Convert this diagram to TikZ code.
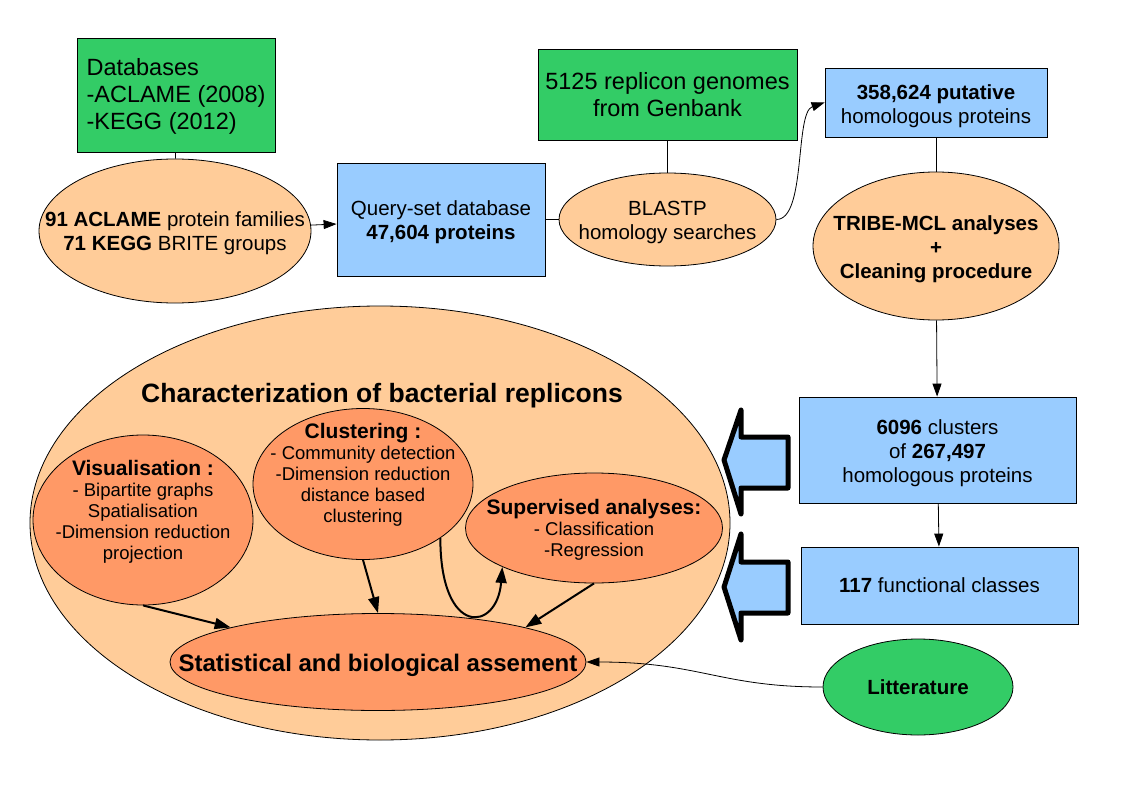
\documentclass[tikz,border=0pt]{standalone}
\usepackage{fontspec}
\setmainfont{Liberation Sans}
\usetikzlibrary{shapes.geometric, arrows.meta}
\definecolor{dbgreen}{RGB}{51,204,102}
\definecolor{setblue}{RGB}{153,204,255}
\definecolor{peach}{RGB}{255,204,153}
\definecolor{salmon}{RGB}{255,153,102}
\newcommand\celltext[3][-8pt]{\raisebox{#1}[0pt][0pt]{\makebox[0pt]{\begin{tabular}{@{}#2@{}}#3\end{tabular}}}}
\newcommand\ovalhead[1]{{\fontsize{21}{21}\selectfont\bfseries #1}}
\begin{document}
\begin{tikzpicture}[x=1pt, y=-1pt, line width=0.8pt,
  box/.style={draw, rectangle, inner sep=0pt, align=center},
  oval/.style={draw, ellipse, inner sep=0pt, align=center},
  big/.style={font=\fontsize{23.5}{27}\selectfont},
  mid/.style={font=\fontsize{20.5}{24}\selectfont},
  small/.style={font=\fontsize{18.5}{21}\selectfont},
  flow/.style={-{Triangle[length=13pt,width=9pt]}},
  heavy/.style={-{Triangle[length=16pt,width=11pt]}, line width=2pt},
  fat/.style={draw, fill=setblue, line width=5pt, line join=round}]
\useasboundingbox (0,0) rectangle (1123,794);
\node[box, fill=dbgreen, big, minimum width=198, minimum height=114] (db) at (176,95) {\celltext{l}{Databases\\-ACLAME (2008)\\-KEGG (2012)}};
\node[oval, fill=peach, mid, minimum width=272, minimum height=144] (fam) at (175,231) {\celltext[-7.5pt]{c}{\textbf{91 ACLAME} protein families\\\textbf{71 KEGG} BRITE groups}};
\node[box, fill=setblue, mid, minimum width=208, minimum height=113] (query) at (441,219.5) {\celltext[-8.5pt]{c}{Query-set database\\\textbf{47,604 proteins}}};
\node[box, fill=dbgreen, big, minimum width=259, minimum height=91] (genomes) at (667.5,94.5) {5125 replicon genomes\\from Genbank};
\node[oval, fill=peach, mid, minimum width=217, minimum height=93] (blastp) at (667.5,219.5) {\celltext[-8.5pt]{c}{BLASTP\\homology searches}};
\node[box, fill=setblue, mid, minimum width=222, minimum height=69] (putative) at (936,102.5) {\celltext[-9.5pt]{c}{\textbf{358,624 putative}\\homologous proteins}};
\node[oval, fill=peach, mid, minimum width=246, minimum height=148] (tribe) at (936,246) {\celltext[-9pt]{c}{\textbf{TRIBE-MCL analyses}\\\textbf{+}\\\textbf{Cleaning procedure}}};
\node[box, fill=setblue, mid, minimum width=277, minimum height=106] (clusters) at (937.5,450) {\celltext[-8.5pt]{c}{\textbf{6096} clusters\\of \textbf{267,497}\\homologous proteins}};
\node[box, fill=setblue, mid, minimum width=277, minimum height=77] (classes) at (939.5,585.5) {\textbf{117} functional classes};
\node[oval, fill=dbgreen, mid, minimum width=190, minimum height=96] (lit) at (918,687) {\textbf{Litterature}};
\node[oval, fill=peach, minimum width=700, minimum height=434] (charac) at (380,523) {};
\node[font=\fontsize{26.5}{30}\selectfont\bfseries] (title) at (382,396) {Characterization of bacterial replicons};
\node[oval, fill=salmon, small, minimum width=220, minimum height=170] (vis) at (143,520) {\celltext[3pt]{c}{\ovalhead{Visualisation :}\\- Bipartite graphs\\Spatialisation\\-Dimension reduction\\projection}};
\node[oval, fill=salmon, small, minimum width=220, minimum height=151] (clu) at (363,484) {\celltext[3.5pt]{c}{\ovalhead{Clustering :}\\- Community detection\\-Dimension reduction\\distance based\\clustering}};
\node[oval, fill=salmon, small, minimum width=257, minimum height=110] (sup) at (594,528) {\celltext[-7.6pt]{c}{\ovalhead{Supervised analyses:}\\- Classification\\-Regression}};
\node[oval, fill=salmon, font=\fontsize{24}{28}\selectfont\bfseries, minimum width=416, minimum height=97] (stat) at (378,662) {\celltext[-10pt]{c}{Statistical and biological assement}};
\draw[fat] (741,410) -- (724,460) -- (741,514) -- (741,488) -- (788,488) -- (788,437) -- (741,437) -- cycle;
\draw[fat] (741,534) -- (724,587) -- (741,640) -- (741,613) -- (788,613) -- (788,562) -- (741,562) -- cycle;
\draw (db) -- (fam);
\draw[flow] (fam) -- (query);
\draw (query) -- (blastp);
\draw (genomes) -- (blastp);
\draw[flow] (blastp.east) .. controls +(30,0) and +(-30,10) .. (putative.west);
\draw (putative) -- (tribe);
\draw[flow] (tribe) -- (clusters);
\draw[flow] (clusters) -- (classes);
\draw[flow] (lit.west) .. controls (720,687) and (700,662) .. (stat.east);
\draw[heavy] (vis.south) -- (stat.north west);
\draw[heavy] (clu.south) -- (stat.north);
\draw[heavy] (clu.-35) .. controls +(0,100) and +(-5,65) .. (sup.203);
\draw[heavy] (sup.south) -- (stat.north east);
\end{tikzpicture}
\end{document}
